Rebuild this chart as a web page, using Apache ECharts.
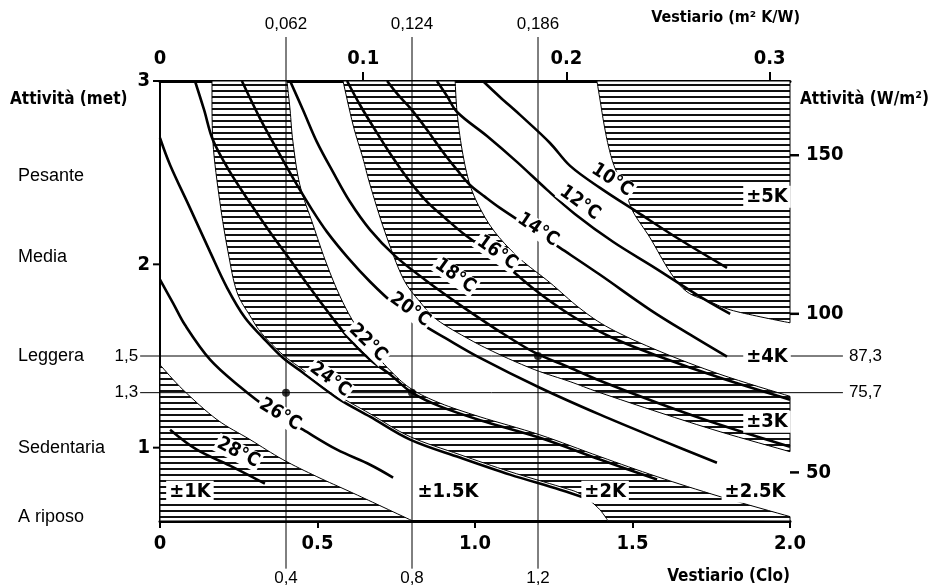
<!DOCTYPE html>
<html>
<head>
<meta charset="utf-8">
<script src="https://cdn.jsdelivr.net/npm/echarts@6/dist/echarts.min.js"></script>
<style>
html,body{margin:0;padding:0;background:#fff;}
#box{width:946px;height:588px;}
</style>
</head>
<body>
<div id="box"></div>
<script>
// isoterme: [clo, met]
var iso28 = [[0.032,1.098],[0.117,0.989],[0.222,0.902],[0.333,0.804]];
var iso26 = [[0,1.916],[0.041,1.790],[0.079,1.670],[0.159,1.480],[0.254,1.332],[0.349,1.207],[0.454,1.098],[0.562,0.989],[0.667,0.907],[0.740,0.837]];
var iso24 = [[0,2.689],[0.032,2.542],[0.095,2.308],[0.159,2.068],[0.213,1.872],[0.270,1.708],[0.324,1.605],[0.390,1.490],[0.454,1.409],[0.562,1.272],[0.667,1.169],[0.794,1.044],[0.952,0.946],[1.111,0.853],[1.270,0.771],[1.365,0.717]];
var iso22 = [[0.111,3.0],[0.140,2.842],[0.168,2.678],[0.222,2.504],[0.286,2.335],[0.349,2.177],[0.413,2.025],[0.476,1.872],[0.540,1.725],[0.603,1.589],[0.667,1.480],[0.730,1.400],[0.8,1.30],[0.889,1.225],[1.016,1.150],[1.206,1.054],[1.397,0.935],[1.578,0.826]];
var iso20 = [[0.260,3.0],[0.317,2.798],[0.381,2.597],[0.435,2.433],[0.483,2.297],[0.530,2.177],[0.597,2.035],[0.667,1.905],[0.746,1.779],[0.825,1.681],[0.905,1.599],[1.016,1.490],[1.206,1.327],[1.397,1.180],[1.587,1.044],[1.768,0.918]];
var iso18 = [[0.413,3.0],[0.454,2.842],[0.498,2.668],[0.549,2.504],[0.603,2.341],[0.667,2.188],[0.746,2.046],[0.841,1.916],[0.952,1.779],[1.070,1.643],[1.190,1.518],[1.302,1.436],[1.397,1.365],[1.587,1.240],[1.778,1.125],[2.0,1.005]];
var iso16 = [[0.594,3.0],[0.635,2.869],[0.683,2.733],[0.740,2.580],[0.794,2.450],[0.848,2.341],[0.905,2.253],[0.968,2.161],[1.070,2.035],[1.190,1.861],[1.302,1.725],[1.429,1.605],[1.587,1.496],[1.778,1.381],[2.0,1.262]];
var iso14 = [[0.721,3.0],[0.756,2.924],[0.794,2.853],[0.848,2.733],[0.898,2.613],[0.943,2.515],[0.984,2.433],[1.032,2.368],[1.079,2.308],[1.175,2.199],[1.270,2.090],[1.397,1.943],[1.556,1.752],[1.683,1.616],[1.800,1.496]];
var iso12 = [[0.879,3.0],[0.911,2.918],[0.943,2.831],[1.038,2.700],[1.133,2.559],[1.229,2.406],[1.317,2.275],[1.438,2.123],[1.571,1.981],[1.705,1.834],[1.810,1.730]];
var iso10 = [[1.025,3.0],[1.079,2.913],[1.143,2.815],[1.238,2.662],[1.302,2.537],[1.397,2.417],[1.514,2.286],[1.651,2.134],[1.800,1.981]];
var isoNames = ['28°C','26°C','24°C','22°C','20°C','18°C','16°C','14°C','12°C','10°C'];

// confini delle zone di tolleranza
var b1 = [[0,1.452],[0.073,1.316],[0.181,1.153],[0.286,1.044],[0.390,0.935],[0.498,0.842],[0.603,0.760],[0.698,0.684],[0.8,0.602]];
var b2 = [[0.165,3.0],[0.168,2.668],[0.190,2.341],[0.216,2.068],[0.244,1.850],[0.286,1.719],[0.324,1.621],[0.390,1.507],[0.454,1.425],[0.562,1.289],[0.667,1.185],[0.794,1.060],[0.952,0.962],[1.111,0.869],[1.270,0.787],[1.333,0.749],[1.390,0.673],[1.422,0.602]];
var b3 = [[0.403,3.0],[0.413,2.842],[0.422,2.668],[0.444,2.433],[0.486,2.215],[0.524,2.025],[0.565,1.850],[0.610,1.698],[0.673,1.534],[0.737,1.41],[0.8,1.318],[0.889,1.243],[1.016,1.168],[1.206,1.07],[1.397,0.951],[1.578,0.842],[1.778,0.733],[2.0,0.624]];
var b4 = [[0.581,3.0],[0.613,2.760],[0.644,2.580],[0.667,2.433],[0.714,2.177],[0.771,1.926],[0.825,1.796],[0.879,1.698],[0.984,1.589],[1.079,1.507],[1.190,1.425],[1.302,1.360],[1.397,1.300],[1.587,1.191],[1.778,1.087],[2.0,0.978]];
var b5 = [[0.937,3.0],[0.943,2.831],[0.959,2.624],[0.984,2.433],[1.022,2.286],[1.070,2.161],[1.143,2.030],[1.238,1.900],[1.333,1.760],[1.429,1.650],[1.587,1.525],[1.778,1.400],[2.0,1.280]];
var b6 = [[1.387,3.0],[1.397,2.896],[1.410,2.760],[1.425,2.635],[1.444,2.526],[1.476,2.406],[1.502,2.286],[1.556,2.144],[1.619,1.959],[1.673,1.850],[1.746,1.796],[1.810,1.752],[1.905,1.714],[2.0,1.681]];
var zoneNames = ['±1K','±1.5K','±2K','±2.5K','±3K','±4K','±5K'];

// linee di riferimento
var refClo = [0.4, 0.8, 1.2];
var refCloText = ['0,4','0,8','1,2'];
var refResText = ['0,062','0,124','0,186'];
var refMet = [1.5, 1.3];
var refMetText = ['1,5','1,3'];
var refWText = ['87,3','75,7'];
var refPoints = [[0.4,1.3],[0.8,1.3],[1.2,1.5]];

var activityNames = ['Pesante','Media','Leggera','Sedentaria','A riposo'];
var activityMet = [2.48, 2.04, 1.5, 1.0, 0.62];

var cloTicks = [0, 0.5, 1.0, 1.5, 2.0];
var resTicks = [0, 0.1, 0.2, 0.3];
var metTicks = [1, 2, 3];
var wTicks = [50, 100, 150];
var wPerMet = 57.8;
var resPerClo = 0.155;

// posizioni delle scritte (layout)
var isoLabelPos = [[0.248,0.973],[0.381,1.180],[0.540,1.371],[0.660,1.572],[0.794,1.752],[0.937,1.937],[1.070,2.063],[1.200,2.188],[1.333,2.335],[1.435,2.46]];
var zoneLabelPos = [[0.095,0.76],[0.914,0.76],[1.413,0.76],[1.889,0.76],[1.927,1.142],[1.927,1.496],[1.927,2.368]];

var isoLines = [iso28, iso26, iso24, iso22, iso20, iso18, iso16, iso14, iso12, iso10];
var zones = [
	[[[0,0.6]], b1],
	[b2, [[2,0.6]], b3.slice().reverse()],
	[b4, b5.slice().reverse()],
	[b6, [[2,3]]]
];

var numFont = "'DejaVu Sans Condensed','DejaVu Sans',sans-serif";
var txtFont = "'Liberation Sans',Arial,sans-serif";

function hatch(){
	var c = document.createElement('canvas');
	c.width = 8; c.height = 6;
	var g = c.getContext('2d');
	g.fillStyle = '#fff'; g.fillRect(0,0,8,6);
	g.fillStyle = '#111'; g.fillRect(0,0,8,2);
	return c;
}
var hatchImg = hatch();

// catmull-rom per avere i bordi morbidi
function smoothPts(p){
	if(p.length < 3) return p.slice();
	var out = [];
	for(var i=0;i<p.length-1;i++){
		var p0=p[i-1]||p[i], p1=p[i], p2=p[i+1], p3=p[i+2]||p[i+1];
		for(var s=0;s<8;s++){
			var t=s/8, t2=t*t, t3=t2*t;
			out.push([0,1].map(function(k){
				return 0.5*((2*p1[k])+(-p0[k]+p2[k])*t+(2*p0[k]-5*p1[k]+4*p2[k]-p3[k])*t2+(-p0[k]+3*p1[k]-3*p2[k]+p3[k])*t3);
			}));
		}
	}
	out.push(p[p.length-1]);
	return out;
}

var chart = echarts.init(document.getElementById('box'));

var series = [];

series.push({
	type:'custom', name:'zone', z:1, silent:true,
	data: zones.map(function(z,i){return [i];}),
	renderItem:function(params, api){
		var pts = [];
		zones[params.dataIndex].forEach(function(seg){
			var px = seg.map(function(d){return api.coord(d);});
			pts = pts.concat(px.length > 2 ? smoothPts(px) : px);
		});
		return {type:'polygon', shape:{points:pts},
			style:{fill:{image:hatchImg, repeat:'repeat'}, stroke:'#000', lineWidth:1}};
	}
});

isoLines.forEach(function(line, i){
	series.push({
		type:'line', name:isoNames[i], data:line, smooth:0.35, showSymbol:false, z:3,
		lineStyle:{color:'#000', width:2.6}
	});
});

// linee e scritte di riferimento, tacche degli assi verticali
series.push({
	type:'custom', name:'rif', z:4, silent:true, clip:false, data:[[0,0]],
	renderItem:function(params, api){
		var ch = [];
		var tf = '17px ' + txtFont;
		refClo.forEach(function(c,i){
			var a = api.coord([c, 3.24]), b = api.coord([c, 0.34]);
			ch.push({type:'line', shape:{x1:a[0],y1:a[1],x2:b[0],y2:b[1]}, style:{stroke:'#000', lineWidth:1}});
			ch.push({type:'text', x:a[0], y:a[1]-4, style:{text:refResText[i], font:tf, fill:'#000', align:'center', verticalAlign:'bottom'}});
			ch.push({type:'text', x:b[0], y:b[1]+1, style:{text:refCloText[i], font:tf, fill:'#000', align:'center', verticalAlign:'top'}});
		});
		refMet.forEach(function(m,i){
			var a = api.coord([-0.063, m]), b = api.coord([2.168, m]);
			ch.push({type:'line', shape:{x1:a[0],y1:a[1],x2:b[0],y2:b[1]}, style:{stroke:'#000', lineWidth:1}});
			ch.push({type:'text', x:a[0]-2, y:a[1], style:{text:refMetText[i], font:tf, fill:'#000', align:'right', verticalAlign:'middle'}});
			ch.push({type:'text', x:b[0]+6, y:b[1], style:{text:refWText[i], font:tf, fill:'#000', align:'left', verticalAlign:'middle'}});
		});
		activityNames.forEach(function(n,i){
			var p = api.coord([0, activityMet[i]]);
			ch.push({type:'text', x:18, y:p[1], style:{text:n, font:'18px ' + txtFont, fill:'#000', align:'left', verticalAlign:'middle'}});
		});
		metTicks.forEach(function(m){
			var p = api.coord([0, m]);
			ch.push({type:'line', shape:{x1:p[0]-7,y1:p[1],x2:p[0],y2:p[1]}, style:{stroke:'#000', lineWidth:2}});
		});
		wTicks.forEach(function(w){
			var p = api.coord([2, w / wPerMet]);
			ch.push({type:'line', shape:{x1:p[0],y1:p[1],x2:p[0]+9,y2:p[1]}, style:{stroke:'#000', lineWidth:2.5}});
		});
		return {type:'group', children:ch};
	}
});

// etichette delle isoterme
series.push({
	type:'custom', name:'iso-label', z:5, silent:true, clip:false,
	data: isoNames.map(function(n,i){return [i];}),
	renderItem:function(params, api){
		var i = params.dataIndex, line = isoLines[i], pos = isoLabelPos[i];
		var p = api.coord(pos);
		var k = 1;
		while(k < line.length-1 && line[k][0] < pos[0]) k++;
		var a = api.coord(line[k-1]), b = api.coord(line[k]);
		var ang = Math.atan2(b[1]-a[1], b[0]-a[0]);
		return {type:'text', x:p[0], y:p[1], rotation:-ang,
			style:{text:isoNames[i], font:'bold 19px ' + numFont, fill:'#000', align:'center', verticalAlign:'middle',
				backgroundColor:'#fff', padding:[0,2]}};
	}
});

// etichette delle zone
series.push({
	type:'custom', name:'zone-label', z:5, silent:true, clip:false,
	data: zoneNames.map(function(n,i){return [i];}),
	renderItem:function(params, api){
		var p = api.coord(zoneLabelPos[params.dataIndex]);
		return {type:'text', x:p[0], y:p[1],
			style:{text:zoneNames[params.dataIndex], font:'bold 20px ' + numFont, fill:'#000', align:'center', verticalAlign:'middle',
				backgroundColor:'#fff', padding:[1,3]}};
	}
});

series.push({
	type:'scatter', name:'punti', data:refPoints, symbolSize:8, z:6,
	itemStyle:{color:'#000'}
});

var option = {
	animation:false,
	backgroundColor:'#fff',
	grid:{left:160, right:156, top:81, bottom:67},
	xAxis:[{
		type:'value', position:'bottom', min:0, max:2, interval:0.5,
		axisLine:{lineStyle:{color:'#000', width:3}},
		axisTick:{show:true, length:7, lineStyle:{color:'#000', width:2}},
		axisLabel:{color:'#000', fontWeight:'bold', fontSize:20, fontFamily:numFont, margin:13,
			formatter:function(v){return v===0 ? '0' : v.toFixed(1);}},
		splitLine:{show:false}
	},{
		type:'value', position:'top', min:0, max:2*resPerClo,
		axisLine:{lineStyle:{color:'#000', width:3}},
		axisTick:{show:true, length:9, lineStyle:{color:'#000', width:2}, customValues:resTicks.slice(1)},
		axisLabel:{color:'#000', fontWeight:'bold', fontSize:20, fontFamily:numFont, margin:12,
			customValues:resTicks, formatter:function(v){return v===0 ? '0' : v.toFixed(1);}},
		splitLine:{show:false}
	}],
	yAxis:[{
		type:'value', position:'left', min:0.6, max:3,
		axisLine:{show:true, lineStyle:{color:'#000', width:2}},
		axisTick:{show:false},
		axisLabel:{color:'#000', fontWeight:'bold', fontSize:20, fontFamily:numFont, margin:10, customValues:metTicks},
		splitLine:{show:false}
	},{
		type:'value', position:'right', min:0.6*wPerMet, max:3*wPerMet,
		axisLine:{show:true, lineStyle:{color:'#000', width:2}},
		axisTick:{show:false},
		axisLabel:{color:'#000', fontWeight:'bold', fontSize:20, fontFamily:numFont, margin:16, customValues:wTicks},
		splitLine:{show:false}
	}],
	graphic:[
		{type:'text', x:10, y:100, style:{text:'Attività (met)', font:'bold 17px ' + numFont, fill:'#000', align:'left', verticalAlign:'middle'}},
		{type:'text', x:800, y:100, style:{text:'Attività (W/m²)', font:'bold 17px ' + numFont, fill:'#000', align:'left', verticalAlign:'middle'}},
		{type:'text', x:800, y:18, style:{text:'Vestiario (m² K/W)', font:'bold 16px ' + numFont, fill:'#000', align:'right', verticalAlign:'middle'}},
		{type:'text', x:790, y:577, style:{text:'Vestiario (Clo)', font:'bold 17px ' + numFont, fill:'#000', align:'right', verticalAlign:'middle'}}
	],
	series:series
};
chart.setOption(option);
</script>
</body>
</html>
